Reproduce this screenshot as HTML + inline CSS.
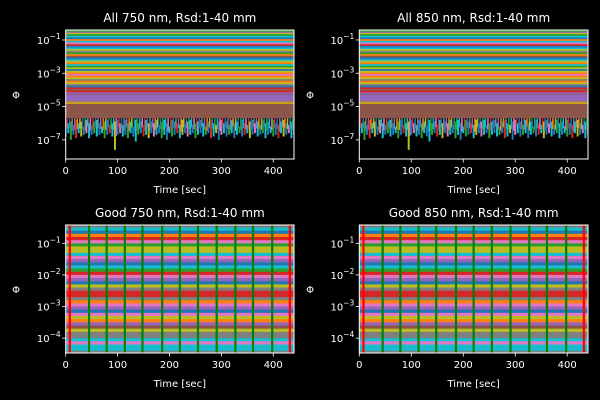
<!DOCTYPE html>
<html><head><meta charset="utf-8">
<style>
html,body{margin:0;padding:0;background:#000;}
svg{display:block;font-family:"DejaVu Sans","Liberation Sans",sans-serif;}
</style></head>
<body>
<svg id="fig" width="600" height="400" viewBox="0 0 600 400" xmlns="http://www.w3.org/2000/svg">
<rect width="600" height="400" fill="#000"/>
</svg>
<script>
// ---- data ----
const tab10 = ["#1f77b4","#ff7f0e","#2ca02c","#d62728","#9467bd","#8c564b","#e377c2","#7f7f7f","#bcbd22","#17becf"];
const xTicks = [0,100,200,300,400];
const topYTickExp = [-1,-3,-5,-7];
const botYTickExp = [-1,-2,-3,-4];
const topLevels = [-0.35,-0.45,-0.55,-0.62,-0.7,-0.8,-0.9,-1.0,-1.1,-1.2,-1.3,-1.4,-1.5,-1.6,-1.7,-1.8,-1.9,-2.0,-2.1,-2.2,-2.3,-2.4,-2.5,-2.6,-2.7,-2.8,-2.9,-3.0,-3.1,-3.2,-3.3,-3.4,-3.5,-3.6,-3.7,-3.8,-3.9,-4.0,-4.1,-4.2];
const topLevelColors = [7,2,4,8,2,9,0,1,9,6,3,0,9,8,7,2,1,5,0,9,8,1,9,2,8,0,8,1,6,1,8,7,1,8,7,0,3,5,3,4];
const purpleBand = [-4.3,-4.7];
const yellowBand = [-4.7,-4.85];
const brownBlock = [-4.85,-5.7];
// noisy low channels (every 5 s): upper and lower log value of each spike
const noiseTimes = [0,5,10,15,20,25,30,35,40,45,50,55,60,65,70,75,80,85,90,95,100,105,110,115,120,125,130,135,140,145,150,155,160,165,170,175,180,185,190,195,200,205,210,215,220,225,230,235,240,245,250,255,260,265,270,275,280,285,290,295,300,305,310,315,320,325,330,335,340,345,350,355,360,365,370,375,380,385,390,395,400,405,410,415,420,425,430,435,440];
const noiseHigh = [-5.8,-6.0,-5.9,-6.1,-5.8,-6.0,-5.9,-6.2,-5.8,-6.0,-6.1,-5.9,-5.8,-6.0,-6.2,-5.9,-5.8,-6.1,-6.0,-5.9,-5.8,-6.0,-6.1,-5.8,-6.0,-5.9,-6.2,-5.8,-6.0,-5.9,-6.1,-5.8,-6.0,-5.9,-6.0,-5.8,-6.1,-5.9,-5.8,-6.0,-6.2,-5.8,-5.9,-6.0,-6.1,-5.8,-6.0,-5.9,-5.8,-6.1,-6.0,-5.9,-5.8,-6.0,-6.2,-5.9,-5.8,-6.0,-6.1,-5.9,-5.8,-6.0,-5.9,-6.1,-5.8,-6.0,-5.9,-6.2,-5.8,-6.0,-6.1,-5.9,-5.8,-6.0,-5.9,-6.1,-5.8,-6.0,-5.9,-6.2,-5.8,-6.0,-6.1,-5.9,-5.8,-6.0,-6.1,-5.9,-5.8];
const noiseLow = [-6.8,-6.6,-7.0,-6.7,-6.9,-6.6,-6.8,-6.7,-6.6,-6.9,-6.7,-6.6,-6.8,-6.7,-6.6,-6.9,-6.7,-6.6,-6.8,-7.6,-6.7,-6.6,-6.8,-6.7,-6.9,-6.6,-6.8,-7.1,-6.7,-6.6,-6.8,-6.7,-6.9,-6.6,-6.8,-6.7,-6.6,-6.9,-6.7,-7.0,-6.6,-6.8,-6.7,-6.6,-6.9,-6.7,-6.6,-6.8,-6.7,-6.6,-6.9,-6.7,-6.6,-6.8,-6.7,-6.6,-6.9,-6.8,-6.6,-7.0,-6.7,-6.6,-6.8,-6.7,-6.6,-6.9,-6.7,-6.6,-6.8,-6.7,-6.6,-6.9,-6.7,-6.6,-6.8,-6.7,-6.6,-6.9,-6.7,-6.6,-6.8,-6.7,-6.9,-6.6,-6.8,-6.7,-6.6,-6.9,-6.7];
const botLevels = [-0.45,-0.55,-0.65,-0.75,-0.85,-0.95,-1.05,-1.15,-1.25,-1.35,-1.45,-1.55,-1.65,-1.75,-1.85,-1.95,-2.05,-2.15,-2.25,-2.35,-2.45,-2.55,-2.65,-2.75,-2.85,-2.95,-3.05,-3.15,-3.25,-3.35,-3.45,-3.55,-3.65,-3.75,-3.85,-3.95,-4.05,-4.15,-4.25,-4.35,-4.45];
const botLevelColors = [7,9,0,1,3,6,2,8,8,9,6,4,0,9,2,3,6,4,0,8,7,3,3,7,1,6,4,0,6,8,1,4,5,8,7,7,9,6,9,9,7];
const greenLines = [45,79,114,148,186,220,255,291,327,361,398];
const redLines = [8,432];
const panels = [
 {title:"All 750 nm, Rsd:1-40 mm", x0:65.7, x1:294, y0:30, y1:159, ymax:-0.4, ymin:-8.15, type:"all", ylab:16},
 {title:"All 850 nm, Rsd:1-40 mm", x0:359.3, x1:588, y0:30, y1:159, ymax:-0.4, ymin:-8.15, type:"all", ylab:310},
 {title:"Good 750 nm, Rsd:1-40 mm", x0:65.7, x1:294, y0:225, y1:353, ymax:-0.42, ymin:-4.47, type:"good", ylab:16},
 {title:"Good 850 nm, Rsd:1-40 mm", x0:359.3, x1:588, y0:225, y1:353, ymax:-0.42, ymin:-4.47, type:"good", ylab:310}
];
const XMAX = 440;
// ---- drawing ----
const NS="http://www.w3.org/2000/svg";
const svg=document.getElementById('fig');
function mk(tag,attrs,parent){const e=document.createElementNS(NS,tag);for(const k in attrs)e.setAttribute(k,attrs[k]);(parent||svg).appendChild(e);return e;}
const spikeColors=[0,9,2,0,3,9,8,0,6,9,0,2,9];
panels.forEach((p,pi)=>{
  const g=mk('g',{});
  
  
  const sx=v=>p.x0+(v/XMAX)*(p.x1-p.x0);
  const sy=l=>p.y0+(p.ymax-l)/(p.ymax-p.ymin)*(p.y1-p.y0);
  const clipId='clip'+pi;
  const cp=mk('clipPath',{id:clipId},g);
  mk('rect',{x:p.x0,y:p.y0,width:p.x1-p.x0,height:p.y1-p.y0},cp);
  const plot=mk('g',{'clip-path':'url(#'+clipId+')'},g);
  
  
  if(p.type==="all"){
    const bg=mk('rect',{x:p.x0,y:sy(topLevels[0]+0.1),width:p.x1-p.x0,height:sy(-4.3)-sy(topLevels[0]+0.1),fill:'#7a6a60'},plot);
    
    
    topLevels.forEach((l,i)=>{
      const r=mk('rect',{x:p.x0,y:sy(l+0.05),width:p.x1-p.x0,height:sy(l-0.05)-sy(l+0.05)+0.3,fill:tab10[topLevelColors[i]]},plot);
      
      
    });
    const pb=mk('rect',{x:p.x0,y:sy(purpleBand[0]),width:p.x1-p.x0,height:sy(purpleBand[1])-sy(purpleBand[0]),fill:tab10[4]},plot);
    
    
    const yb=mk('rect',{x:p.x0,y:sy(yellowBand[0]),width:p.x1-p.x0,height:sy(yellowBand[1])-sy(yellowBand[0]),fill:"#c8a020"},plot);
    
    
    const bb=mk('rect',{x:p.x0,y:sy(brownBlock[0]),width:p.x1-p.x0,height:sy(brownBlock[1])-sy(brownBlock[0]),fill:tab10[5]},plot);
    
    
    noiseTimes.forEach((t,i)=>{
      const c=tab10[spikeColors[i%spikeColors.length]];
      const ln=mk('line',{x1:sx(t),x2:sx(t),y1:sy(noiseHigh[i]),y2:sy(noiseLow[i]),stroke:c,'stroke-width':2},plot);
      
      
      const ln2=mk('line',{x1:sx(t+2.5),x2:sx(t+2.5),y1:sy(brownBlock[1]),y2:sy((noiseLow[i]+noiseHigh[i])/2),stroke:tab10[(i*7+3)%10===5?0:(i*7+3)%10],'stroke-width':1.6},plot);
      
      
    });
  } else {
    botLevels.forEach((l,i)=>{
      const r=mk('rect',{x:p.x0,y:sy(l+0.05),width:p.x1-p.x0,height:sy(l-0.05)-sy(l+0.05)+0.3,fill:tab10[botLevelColors[i]]},plot);
      
      
    });
    greenLines.forEach(t=>{
      const ln=mk('line',{x1:sx(t),x2:sx(t),y1:p.y0,y2:p.y1,stroke:"#008000",'stroke-width':2.2},plot);
      
      
    });
    redLines.forEach(t=>{
      const ln=mk('line',{x1:sx(t),x2:sx(t),y1:p.y0,y2:p.y1,stroke:"#ff0000",'stroke-width':2.2},plot);
      
      
    });
  }
  const fr=mk('rect',{x:p.x0,y:p.y0,width:p.x1-p.x0,height:p.y1-p.y0,fill:'none',stroke:'#fff','stroke-width':1},g);
  
  
  xTicks.forEach(t=>{
    const x=sx(t);
    mk('line',{x1:x,x2:x,y1:p.y1,y2:p.y1+3.5,stroke:'#fff','stroke-width':0.8},g);
    const tx=mk('text',{x:x,y:p.y1+15,'text-anchor':'middle','font-size':10,fill:'#fff'},g);
    tx.textContent=t;
    
    
  });
  const exps=p.type==="all"?topYTickExp:botYTickExp;
  exps.forEach(e=>{
    const y=sy(e);
    mk('line',{x1:p.x0-3.5,x2:p.x0,y1:y,y2:y,stroke:'#fff','stroke-width':0.8},g);
    const tx=mk('text',{x:p.x0-5,y:y+4,'text-anchor':'end','font-size':10,fill:'#fff'},g);
    
    
    const a=mk('tspan',{},tx);a.textContent='10';
    const b=mk('tspan',{dy:-5,'font-size':7.5},tx);b.textContent='\u2212'+Math.abs(e);
  });
  const xl=mk('text',{x:(p.x0+p.x1)/2,y:p.y1+34,'text-anchor':'middle','font-size':10,fill:'#fff'},g);
  xl.textContent='Time [sec]';
  
  
  const yl=mk('text',{x:p.ylab,y:(p.y0+p.y1)/2+4,'text-anchor':'middle','font-size':10,fill:'#fff'},g);
  yl.textContent='\u03A6';
  
  
  const tt=mk('text',{x:(p.x0+p.x1)/2,y:p.y0-8,'text-anchor':'middle','font-size':12,fill:'#fff'},g);
  tt.textContent=p.title;
  
  
});
</script>
</body></html>
